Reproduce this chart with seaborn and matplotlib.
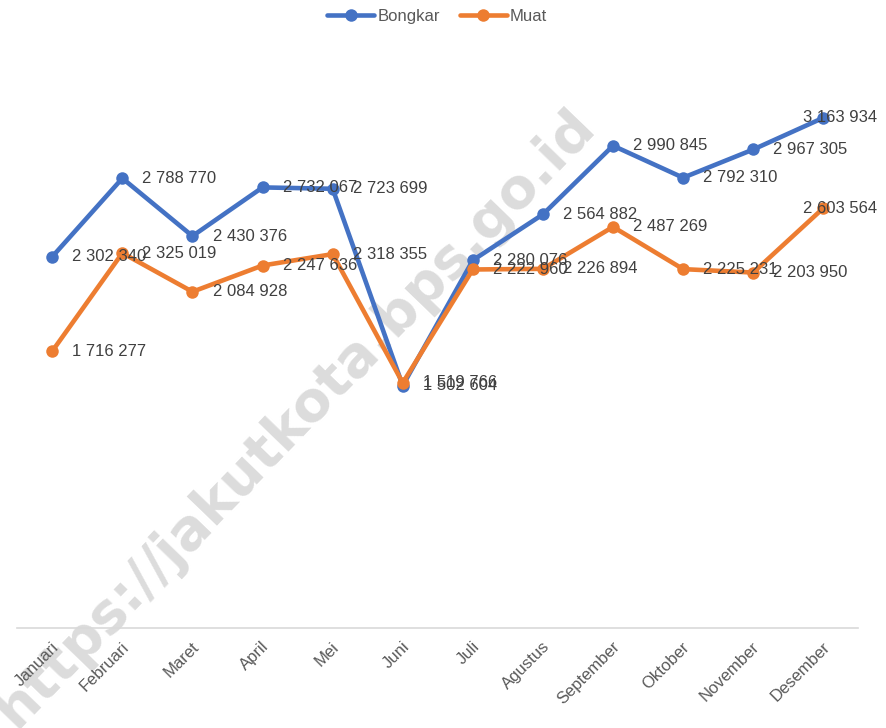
import numpy as np
import pandas as pd
import matplotlib
matplotlib.use("Agg")
import matplotlib.pyplot as plt
import matplotlib.transforms as mtransforms
import seaborn as sns

# Data
bulan = ["Januari", "Februari", "Maret", "April", "Mei", "Juni",
         "Juli", "Agustus", "September", "Oktober", "November", "Desember"]
bongkar = [2302340, 2788770, 2430376, 2732067, 2723699, 1502604,
           2280076, 2564882, 2990845, 2792310, 2967305, 3163934]
muat = [1716277, 2325019, 2084928, 2247636, 2318355, 1519766,
        2222960, 2226894, 2487269, 2225231, 2203950, 2603564]
series = ["Bongkar", "Muat"]
colors = ["#4472C4", "#ED7D31"]

df = pd.DataFrame({
    "Bulan": bulan * 2,
    "Nilai": bongkar + muat,
    "Jenis": [series[0]] * len(bulan) + [series[1]] * len(bulan),
})
df["pos"] = np.tile(np.arange(len(bulan)), 2)

sns.set_style("white")
plt.rcParams["font.family"] = ["Liberation Sans", "DejaVu Sans"]

fig = plt.figure(figsize=(8.87, 7.28), dpi=100)
ax = fig.add_axes([0.0194, 0.1376, 0.9483, 0.775])
ax.set_zorder(2)
ax.patch.set_alpha(0)

# watermark (behind the chart)
fig.text(0.333, 0.426, "https://jakutkota.bps.go.id", fontsize=40, fontweight="bold",
         family="DejaVu Sans", color="#dcdcdc", rotation=46,
         ha="center", va="center", rotation_mode="anchor", zorder=0)

sns.lineplot(data=df, x="pos", y="Nilai", hue="Jenis", palette=colors,
             marker="o", markersize=9, markeredgewidth=0, linewidth=3.3,
             ax=ax, zorder=3)

ax.set_xlim(-0.5, len(bulan) - 0.5)
ax.set_ylim(0, 3500000)
for s in ["top", "right", "left"]:
    ax.spines[s].set_visible(False)
ax.spines["bottom"].set_color("#d9d9d9")
ax.spines["bottom"].set_linewidth(1.2)
ax.set_yticks([])
ax.set_xlabel("")
ax.set_ylabel("")

ax.set_xticks(np.arange(len(bulan)))
ax.set_xticklabels(bulan, rotation=45, ha="right", va="center",
                   rotation_mode="anchor", fontsize=12, color="#595959")
ax.tick_params(axis="x", length=0, pad=0)
offset = mtransforms.ScaledTranslation(3 / 72, -12 / 72, fig.dpi_scale_trans)
for lbl in ax.get_xticklabels():
    lbl.set_transform(lbl.get_transform() + offset)

# data labels
def fmt(v):
    return f"{v:,}".replace(",", " ")

for vals in [bongkar, muat]:
    for i, v in enumerate(vals):
        if i == len(vals) - 1:
            ax.annotate(fmt(v), (i, v), xytext=(12, 0), textcoords="offset points",
                        ha="center", va="center", fontsize=12, color="#404040", zorder=5)
        else:
            ax.annotate(fmt(v), (i, v), xytext=(14.5, 0), textcoords="offset points",
                        ha="left", va="center", fontsize=12, color="#404040", zorder=5)

leg = ax.legend(loc="upper center", ncol=2, frameon=False,
                fontsize=12, handlelength=2.8, columnspacing=1.2, handletextpad=0.2)
leg.set_bbox_to_anchor((0.493, 1.008), transform=fig.transFigure)
for t in leg.get_texts():
    t.set_color("#595959")

fig.savefig("out.png", dpi=100)
